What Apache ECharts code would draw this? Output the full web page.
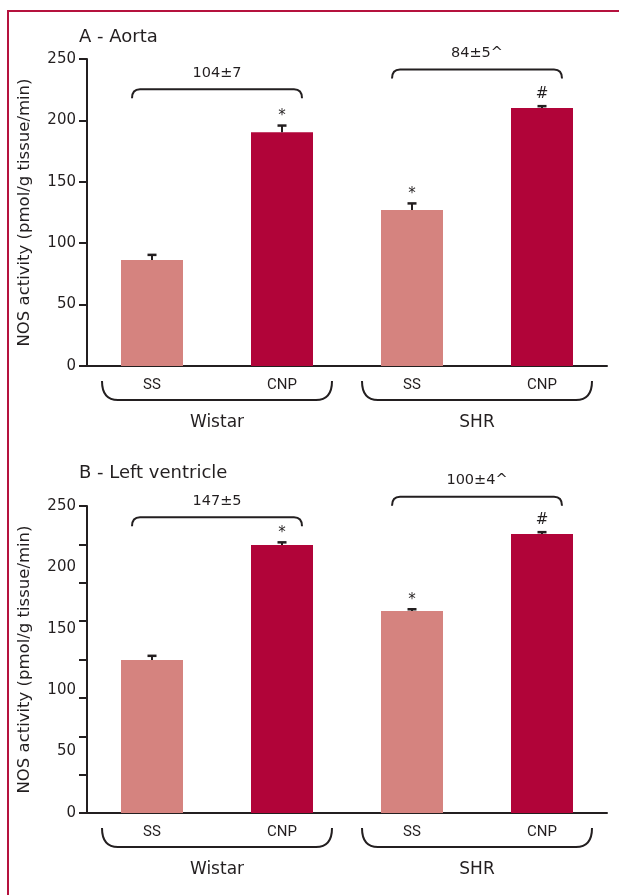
<!DOCTYPE html>
<html>
<head>
<meta charset="utf-8">
<script src="https://cdn.jsdelivr.net/npm/echarts@6/dist/echarts.min.js"></script>
<style>
    html, body { margin: 0; padding: 0; background: #fff; }
    #main { width: 619px; height: 895px; }
</style>
</head>
<body>
<div id="main"></div>
<script>
// categories
var treatments = ['SS', 'CNP', 'SS', 'CNP'];
var strains = ['Wistar', 'SHR'];
var panelTitles = ['A - Aorta', 'B - Left ventricle'];
var yName = 'NOS activity (pmol/g tissue/min)';
// panel A - aorta (mean, upper error)
var aortaMean = [86.4, 190.4, 127, 210];
var aortaErr = [4.1, 5.4, 5.4, 1.6];
var aortaMarks = ['', '*', '*', '#'];
var aortaDelta = ['104±7', '84±5^'];
// panel B - left ventricle
var lvMean = [124.5, 218.2, 164.4, 227.2];
var lvErr = [3.5, 2.2, 1.5, 1.5];
var lvMarks = ['', '*', '*', '#'];
var lvDelta = ['147±5', '100±4^'];
// tick labels
var yLabels = [0, 50, 100, 150, 200, 250];
var lvTicks = [0, 31.25, 62.5, 93.75, 125, 156.25, 187.5, 218.75, 250];

var INK = '#231f20';
var FONT = '"DejaVu Sans", "Noto Sans", sans-serif';
var NARROW = 'Roboto, "Liberation Sans", sans-serif';
var barColors = ['#d5837f', '#b10439'];
// bracket heights (axis units) above the pairs
var sigLevels = [[225.3, 241.5], [240.8, 257.6]];

var chart = echarts.init(document.getElementById('main'));

function barData(vals) {
    return vals.map(function (v, i) {
        return { value: v, itemStyle: { color: barColors[i % 2] } };
    });
}

function errData(mean, err) {
    return mean.map(function (m, i) { return [i, m, err[i]]; });
}

//误差线+显著性标记
function errorItem(marks) {
    return function (params, api) {
        var x = api.value(0), m = api.value(1), e = api.value(2);
        var base = api.coord([x, m]);
        var top = api.coord([x, m + e]);
        var kids = [
            { type: 'line', shape: { x1: base[0], y1: base[1], x2: top[0], y2: top[1] }, style: { stroke: INK, lineWidth: 2 } },
            { type: 'line', shape: { x1: top[0] - 4.5, y1: top[1], x2: top[0] + 4.5, y2: top[1] }, style: { stroke: INK, lineWidth: 2.5 } }
        ];
        var mk = marks[params.dataIndex];
        if (mk) {
            kids.push({
                type: 'text', x: top[0], y: top[1] - (mk == '*' ? 9 : 12),
                style: { text: mk, fill: INK, font: '15px ' + FONT, align: 'center', verticalAlign: 'middle' }
            });
        }
        return { type: 'group', children: kids };
    };
}

//组间括号
function sigItem(levels, texts) {
    return function (params, api) {
        var i = params.dataIndex;
        var a = api.coord([api.value(0), levels[i]]);
        var b = api.coord([api.value(1), levels[i]]);
        var x1 = a[0] - 20, x2 = b[0] + 20, y = a[1], r = 8, d = 9;
        var p = 'M' + x1 + ' ' + (y + d) + ' Q' + x1 + ' ' + y + ' ' + (x1 + r) + ' ' + y +
            ' L' + (x2 - r) + ' ' + y + ' Q' + x2 + ' ' + y + ' ' + x2 + ' ' + (y + d);
        return {
            type: 'group', children: [
                { type: 'path', shape: { pathData: p }, style: { stroke: INK, lineWidth: 2, fill: null } },
                { type: 'text', x: (x1 + x2) / 2, y: y - 16, style: { text: texts[i], fill: INK, font: '14.5px ' + FONT, align: 'center', verticalAlign: 'middle' } }
            ]
        };
    };
}

//x轴下方分组括号
function groupItem(params, api) {
    var i = params.dataIndex;
    var a = api.coord([api.value(0), 0]);
    var b = api.coord([api.value(1), 0]);
    var w = api.size([1, 0])[0];
    var x1 = a[0] - w / 2 + 15, x2 = b[0] + w / 2 - 15;
    var yt = a[1] + 15, yb = a[1] + 34;
    var p = 'M' + x1 + ' ' + yt + ' Q' + x1 + ' ' + yb + ' ' + (x1 + 16) + ' ' + yb +
        ' L' + (x2 - 16) + ' ' + yb + ' Q' + x2 + ' ' + yb + ' ' + x2 + ' ' + yt;
    return {
        type: 'group', children: [
            { type: 'path', shape: { pathData: p }, style: { stroke: INK, lineWidth: 2, fill: null } },
            { type: 'text', x: (x1 + x2) / 2, y: a[1] + 57, style: { text: strains[i], fill: INK, font: '17px ' + FONT, align: 'center', verticalAlign: 'middle' } }
        ]
    };
}

function xAxis(idx) {
    return {
        type: 'category', gridIndex: idx, data: treatments,
        axisLine: { lineStyle: { color: INK, width: 2 } },
        axisTick: { length: 6, lineStyle: { color: INK, width: 2 } },
        axisLabel: { color: INK, fontSize: 15, fontFamily: NARROW, margin: 12 }
    };
}

function yAxis(idx) {
    var ax = {
        type: 'value', gridIndex: idx, min: 0, max: 250, interval: 50,
        name: yName, nameLocation: 'middle', nameGap: 54,
        nameTextStyle: { color: INK, fontSize: 16.5, fontFamily: FONT },
        axisLine: { show: true, lineStyle: { color: INK, width: 2 } },
        axisTick: { show: true, length: 8, lineStyle: { color: INK, width: 2 } },
        axisLabel: { color: INK, fontSize: 15, fontFamily: FONT, margin: 11 },
        splitLine: { show: false }
    };
    if (idx == 1) {
        ax.axisTick.customValues = lvTicks;
        ax.axisLabel.customValues = yLabels;
        ax.axisLabel.padding = [0, 0, 7, 0];
    }
    return ax;
}

var option = {
    animation: false,
    backgroundColor: '#fff',
    title: [
        { text: panelTitles[0], left: 79, top: 28, padding: 0, textStyle: { color: INK, fontSize: 18, fontWeight: 'normal', fontFamily: FONT } },
        { text: panelTitles[1], left: 79, top: 464, padding: 0, textStyle: { color: INK, fontSize: 18, fontWeight: 'normal', fontFamily: FONT } }
    ],
    graphic: [{
        type: 'polyline', silent: true,
        shape: { points: [[8, 895], [8, 11], [619, 11]] },
        style: { stroke: '#b5123e', lineWidth: 2, fill: null }
    }],
    grid: [
        { left: 87, top: 59, width: 520, height: 307 },
        { left: 87, top: 506, width: 520, height: 307 }
    ],
    xAxis: [xAxis(0), xAxis(1)],
    yAxis: [yAxis(0), yAxis(1)],
    series: [
        { type: 'bar', xAxisIndex: 0, yAxisIndex: 0, barWidth: 62, data: barData(aortaMean) },
        { type: 'bar', xAxisIndex: 1, yAxisIndex: 1, barWidth: 62, data: barData(lvMean) },
        { type: 'custom', xAxisIndex: 0, yAxisIndex: 0, silent: true, z: 3, renderItem: errorItem(aortaMarks), data: errData(aortaMean, aortaErr) },
        { type: 'custom', xAxisIndex: 1, yAxisIndex: 1, silent: true, z: 3, renderItem: errorItem(lvMarks), data: errData(lvMean, lvErr) },
        { type: 'custom', xAxisIndex: 0, yAxisIndex: 0, silent: true, renderItem: sigItem(sigLevels[0], aortaDelta), data: [[0, 1], [2, 3]] },
        { type: 'custom', xAxisIndex: 1, yAxisIndex: 1, silent: true, renderItem: sigItem(sigLevels[1], lvDelta), data: [[0, 1], [2, 3]] },
        { type: 'custom', xAxisIndex: 0, yAxisIndex: 0, silent: true, renderItem: groupItem, data: [[0, 1], [2, 3]] },
        { type: 'custom', xAxisIndex: 1, yAxisIndex: 1, silent: true, renderItem: groupItem, data: [[0, 1], [2, 3]] }
    ]
};
chart.setOption(option);
</script>
</body>
</html>
